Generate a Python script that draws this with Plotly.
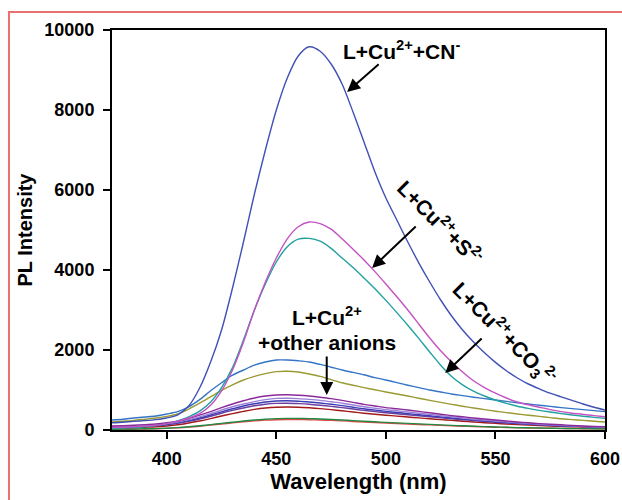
import plotly.graph_objects as go

wavelength = list(range(375, 605, 5))

cn = [180, 195, 215, 235, 260, 300, 380, 600, 1050, 1700,
      2500, 3550, 4700, 5900, 7000, 8000, 8800, 9350, 9580, 9470,
      9150, 8650, 7950, 7200, 6450, 5800, 5250, 4700, 4180, 3700,
      3250, 2850, 2500, 2200, 1930, 1690, 1480, 1300, 1150, 1030,
      920, 830, 740, 650, 570, 500]
s2 = [60, 70, 80, 100, 120, 160, 220, 300, 410, 620,
      980, 1500, 2200, 3000, 3700, 4300, 4780, 5080, 5200, 5160,
      5020, 4780, 4520, 4250, 3960, 3650, 3330, 3000, 2650, 2300,
      1980, 1700, 1450, 1230, 1060, 920, 800, 700, 630, 570,
      510, 460, 420, 390, 360, 330]
co3 = [40, 50, 60, 80, 110, 160, 230, 330, 470, 700,
       1060, 1560, 2250, 3000, 3650, 4200, 4580, 4770, 4790, 4720,
       4540, 4300, 4060, 3800, 3530, 3240, 2935, 2620, 2290, 1950,
       1620, 1340, 1130, 970, 850, 750, 665, 595, 540, 490,
       450, 410, 375, 345, 315, 290]
other1 = [250, 270, 300, 325, 350, 400, 460, 580, 760, 980,
          1180, 1370, 1500, 1620, 1700, 1750, 1750, 1730, 1700, 1640,
          1570, 1500, 1440, 1380, 1310, 1250, 1185, 1120, 1060, 1000,
          950, 900, 860, 820, 785, 750, 715, 680, 650, 620,
          590, 560, 535, 510, 485, 460]
other2 = [200, 220, 240, 270, 300, 340, 400, 520, 670, 830,
          990, 1130, 1250, 1340, 1410, 1460, 1470, 1450, 1400, 1340,
          1260, 1180, 1120, 1060, 1005, 950, 900, 850, 795, 740,
          690, 640, 595, 550, 510, 470, 435, 400, 370, 340,
          310, 280, 260, 240, 220, 200]
other3 = [100, 110, 120, 135, 150, 180, 220, 290, 370, 460,
          560, 650, 730, 800, 850, 875, 880, 870, 850, 820,
          785, 740, 690, 640, 600, 560, 530, 500, 465, 430,
          395, 360, 330, 300, 275, 250, 225, 200, 180, 160,
          145, 130, 115, 100, 90, 80]
other4 = [90, 98, 105, 118, 130, 160, 200, 260, 330, 410,
          500, 580, 650, 710, 760, 790, 795, 785, 765, 740,
          705, 670, 625, 580, 545, 510, 480, 450, 420, 390,
          360, 330, 300, 270, 248, 225, 202, 180, 162, 145,
          130, 115, 102, 90, 80, 70]
other5 = [80, 88, 95, 108, 120, 145, 180, 235, 300, 375,
          455, 530, 600, 655, 700, 725, 730, 720, 700, 675,
          645, 610, 570, 530, 497, 465, 437, 410, 382, 355,
          328, 300, 275, 250, 228, 205, 185, 165, 150, 135,
          120, 105, 95, 85, 75, 65]
other6 = [70, 78, 85, 98, 110, 130, 165, 215, 275, 345,
          420, 490, 550, 605, 645, 665, 670, 660, 645, 620,
          590, 560, 525, 490, 460, 430, 405, 380, 355, 330,
          305, 280, 257, 235, 215, 195, 177, 160, 145, 130,
          117, 105, 95, 85, 75, 65]
other7 = [50, 55, 60, 70, 80, 100, 130, 175, 225, 285,
          350, 410, 465, 515, 550, 570, 575, 570, 555, 535,
          510, 480, 450, 420, 395, 370, 347, 325, 302, 280,
          260, 240, 220, 200, 182, 165, 150, 135, 122, 110,
          100, 90, 82, 75, 67, 60]
other8 = [20, 22, 25, 30, 35, 45, 60, 80, 105, 135,
          165, 195, 225, 250, 270, 285, 290, 290, 285, 275,
          265, 250, 235, 220, 205, 190, 177, 165, 152, 140,
          127, 115, 105, 95, 85, 75, 67, 60, 55, 50,
          45, 40, 37, 35, 32, 30]
other9 = [15, 17, 20, 25, 30, 40, 55, 72, 95, 122,
          150, 178, 205, 228, 246, 258, 262, 262, 258, 250,
          240, 228, 214, 200, 187, 174, 162, 150, 138, 127,
          116, 105, 95, 86, 78, 70, 63, 56, 51, 46,
          42, 38, 35, 32, 30, 27]

series = [
    ("other9", other9, "#e04848"),
    ("other8", other8, "#228a44"),
    ("other7", other7, "#a31a1a"),
    ("other6", other6, "#6a3fa0"),
    ("other5", other5, "#3c3cb4"),
    ("other4", other4, "#9b80d8"),
    ("other3", other3, "#8b2b9b"),
    ("other2", other2, "#9a9a33"),
    ("other1", other1, "#3575c5"),
    ("co3", co3, "#22a0a0"),
    ("s2", s2, "#c352c3"),
    ("cn", cn, "#4050b5"),
]

fig = go.Figure()
for name, vals, col in series:
    fig.add_trace(go.Scatter(x=wavelength[:len(vals)], y=vals, mode="lines", name=name,
                             line=dict(color=col, width=1.4, shape="spline", smoothing=0.8)))

FONT = "Liberation Sans, Arial, sans-serif"
lbl = dict(family=FONT, size=21, color="black", weight="bold")

def arrow(x0, y0, x1, y1):
    fig.add_annotation(x=x1, y=y1, ax=x0, ay=y0, xref="x", yref="y", axref="x", ayref="y",
                       text="", showarrow=True, arrowhead=2, arrowsize=1.3, arrowwidth=2,
                       arrowcolor="black")

fig.add_annotation(x=507, y=9500, xref="x", yref="y", showarrow=False,
                   text="L+Cu<sup>2+</sup>+CN<sup>-</sup>", font=lbl)
arrow(497.4, 9175, 482.3, 8450)

fig.add_annotation(x=525, y=5200, xref="x", yref="y", showarrow=False, textangle=45,
                   text="L+Cu<sup>2+</sup>+S<sup>2-</sup>", font=lbl)
arrow(514.3, 5125, 493.7, 4050)

fig.add_annotation(x=554, y=2420, xref="x", yref="y", showarrow=False, textangle=45,
                   text="L+Cu<sup>2+</sup>+CO<sub>3</sub><sup>2-</sup>", font=lbl)
arrow(544.4, 2325, 527.1, 1425)

fig.add_annotation(x=473, y=2850, xref="x", yref="y", showarrow=False,
                   text="L+Cu<sup>2+</sup>", font=lbl)
fig.add_annotation(x=473, y=2200, xref="x", yref="y", showarrow=False,
                   text="+other anions", font=lbl)
arrow(473, 1875, 473, 875)

axis_common = dict(showline=True, linecolor="black", linewidth=2, mirror=True,
                   ticks="outside", ticklen=7, tickwidth=2, tickcolor="black",
                   showgrid=False, zeroline=False, tickformat="d",
                   tickfont=dict(family=FONT, size=18, color="black", weight="bold"))

fig.update_xaxes(range=[375, 600], tickvals=[400, 450, 500, 550, 600],
                 ticklabelstandoff=4,
                 title=dict(text="Wavelength (nm)", standoff=6,
                            font=dict(family=FONT, size=22, color="black", weight="bold")),
                 **axis_common)
fig.update_yaxes(range=[0, 10000], tickvals=[0, 2000, 4000, 6000, 8000, 10000],
                 ticklabelstandoff=5,
                 title=dict(text="PL Intensity", standoff=6,
                            font=dict(family=FONT, size=20, color="black", weight="bold")),
                 **axis_common)

fig.add_shape(type="rect", xref="paper", yref="paper", x0=-0.209, y0=-0.3, x1=1.2, y1=1.045,
              line=dict(color="#e87070", width=2), fillcolor="rgba(0,0,0,0)", layer="above")

fig.update_layout(width=622, height=500, margin=dict(l=112, r=17, t=30, b=70, autoexpand=False),
                  paper_bgcolor="white", plot_bgcolor="white", showlegend=False)

fig.write_html("out.html", config={"displayModeBar": False},
               post_script="document.body.style.margin='0';")
